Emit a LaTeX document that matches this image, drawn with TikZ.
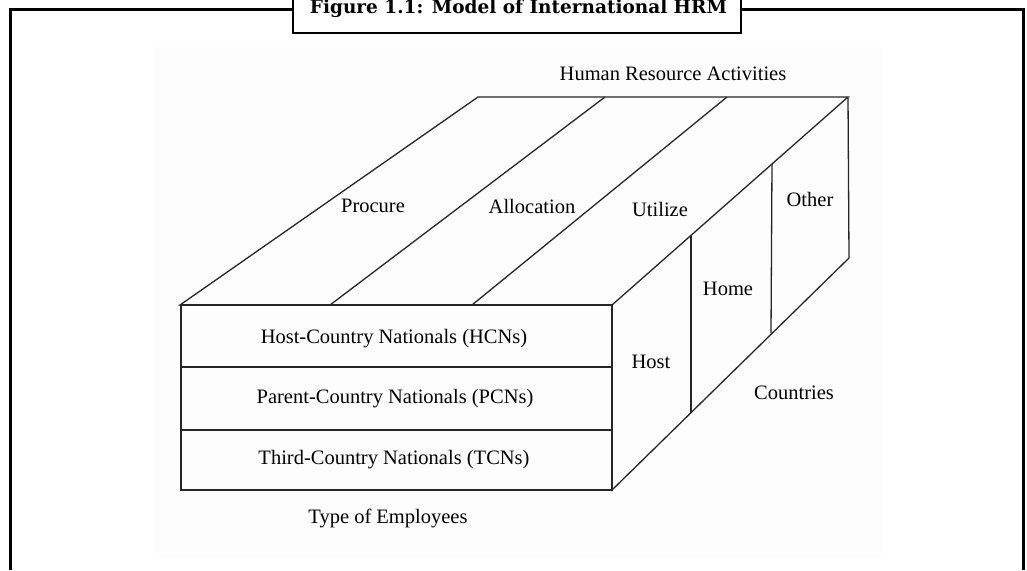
\documentclass[tikz,border=0pt]{standalone}
\usepackage{fontspec}
\setmainfont{Liberation Serif}
\newfontfamily\titlefont{DejaVu Serif}
\begin{document}
\begin{tikzpicture}[x=1pt,y=-1pt,
  edge/.style={line width=1.3pt,black!85},
  frameline/.style={line width=2.6pt,black},
  lbl/.style={inner sep=0pt,anchor=base,font=\fontsize{20.5}{22}\selectfont}]
\useasboundingbox (0,0) rectangle (1027,570);
% faint background panel
\fill[black!0.6] (153,47) rectangle (882,558);
% outer frame with title box
\draw[frameline] (10.5,570) -- (10.5,9.5) -- (293,9.5);
\draw[frameline] (741,9.5) -- (1023.5,9.5) -- (1023.5,570);
\draw[frameline] (293,-20) -- (293,33) -- (741,33) -- (741,-20);
\node[inner sep=0pt,anchor=base] (title) at (518.5,13)
  {\resizebox{417pt}{!}{\titlefont\bfseries Figure 1.1: Model of International HRM}};
% top face
\draw[edge] (180,305) -- (612,305) -- (848,97) -- (478,97) -- cycle;
\draw[edge] (330,305) -- (605,97);
\draw[edge] (472,305) -- (727,97);
% right face
\draw[edge] (612,305) -- (612,490) -- (849,258) -- (848,97);
\draw[edge] (691,235) -- (691,413);
\draw[edge] (772,164) -- (771,333);
% front face
\draw[edge] (181,305) rectangle (612,490);
\draw[edge] (181,367) -- (612,367);
\draw[edge] (181,430) -- (612,430);
% labels
\node[lbl] (hra) at (673,80) {Human Resource Activities};
\node[lbl] (procure) at (373,212) {Procure};
\node[lbl] (alloc) at (532,213) {Allocation};
\node[lbl] (utilize) at (660,216) {Utilize};
\node[lbl] (other) at (810,206) {Other};
\node[lbl] (home) at (728,295) {Home};
\node[lbl] (host) at (651,368) {Host};
\node[lbl] (countries) at (794,399) {Countries};
\node[lbl] (hcn) at (394,343) {Host-Country Nationals (HCNs)};
\node[lbl] (pcn) at (395,403) {Parent-Country Nationals (PCNs)};
\node[lbl] (tcn) at (394,464) {Third-Country Nationals (TCNs)};
\node[lbl] (type) at (388,523) {Type of Employees};
\end{tikzpicture}
\end{document}
